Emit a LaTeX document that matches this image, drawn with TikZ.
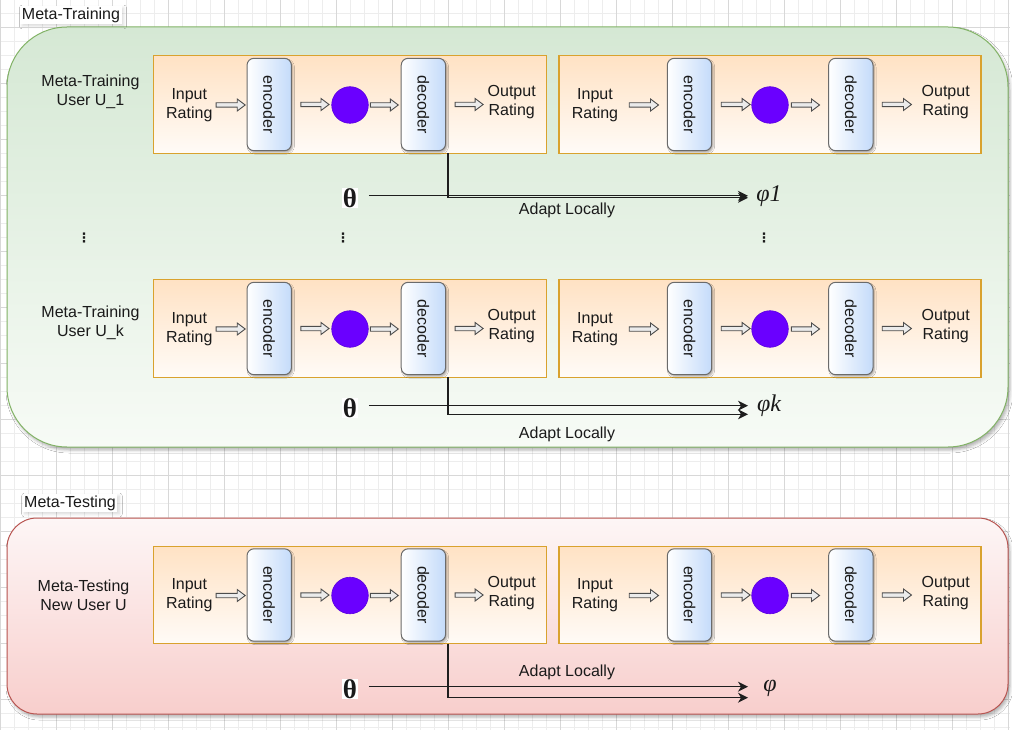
\documentclass[tikz,border=0pt]{standalone}
\usepackage{fontspec}
\setmainfont{Liberation Sans}
\newfontfamily\greekserif{Liberation Serif}
\newfontfamily\symbolfont{DejaVu Sans}
\usetikzlibrary{arrows.meta,calc,shadows.blur}

\definecolor{gridminor}{HTML}{EDEDED}
\definecolor{gridmajor}{HTML}{D8D8D8}
\definecolor{textcol}{HTML}{1A1A1A}
\definecolor{trainline}{HTML}{82B366}
\definecolor{traintop}{HTML}{D5E8D4}
\definecolor{trainbot}{HTML}{F7FBF6}
\definecolor{testline}{HTML}{B85450}
\definecolor{testtop}{HTML}{FDF6F6}
\definecolor{testbot}{HTML}{F8CECC}
\definecolor{stageline}{HTML}{D9A22E}
\definecolor{stagetop}{HTML}{FFE2C4}
\definecolor{stagebot}{HTML}{FFFBF7}
\definecolor{codecline}{HTML}{6B6B6B}
\definecolor{codecblue}{HTML}{C4DBFA}
\definecolor{latentfill}{HTML}{6A00FF}
\definecolor{latentline}{HTML}{5A00E0}
\definecolor{arrowgray}{HTML}{4D4D4D}
\definecolor{adaptcol}{HTML}{1E1E1E}

% one encoder/decoder pipeline with the narrower spacing
\newcommand\leftpipe[2]{% #1 name prefix, #2 vertical offset
  \node[stage, minimum width=393.4, minimum height=97.6] (#1box) at (350,104.5+#2) {};
  \node[txt] (#1in) at (189.3,105+#2) {Input\\Rating};
  \node[codec] (#1enc) at (269.2,104.5+#2) {\rotatebox{-90}{encoder}};
  \node[latent] (#1lat) at (350,105+#2) {};
  \node[codec] (#1dec) at (423.4,104.5+#2) {\rotatebox{-90}{decoder}};
  \node[txt] (#1out) at (511.7,102.2+#2) {Output\\Rating};
  \draw[flexarrow={3.5pt}{1.3pt}] (#1in.east) to (#1enc.west);
  \draw[flexarrow={9pt}{2.4pt}] (#1enc.east) to (#1lat.west);
  \draw[flexarrow={1.7pt}{2.4pt}] (#1lat.east) to (#1dec.west);
  \draw[flexarrow={9pt}{4.4pt}] (#1dec.east) to (#1out.west);
}
% the same pipeline with the wider spacing
\newcommand\rightpipe[2]{%
  \node[stage, minimum width=422, minimum height=97.6] (#1box) at (770,104.5+#2) {};
  \node[txt] (#1in) at (595,105+#2) {Input\\Rating};
  \node[codec] (#1enc) at (689.5,104.5+#2) {\rotatebox{-90}{encoder}};
  \node[latent] (#1lat) at (770,105+#2) {};
  \node[codec] (#1dec) at (850.8,104.5+#2) {\rotatebox{-90}{decoder}};
  \node[txt] (#1out) at (945.7,102.2+#2) {Output\\Rating};
  \draw[flexarrow={10.9pt}{8.3pt}] (#1in.east) to (#1enc.west);
  \draw[flexarrow={9pt}{1.3pt}] (#1enc.east) to (#1lat.west);
  \draw[flexarrow={2.7pt}{8.6pt}] (#1lat.east) to (#1dec.west);
  \draw[flexarrow={8.7pt}{10pt}] (#1dec.east) to (#1out.west);
}

\begin{document}
\begin{tikzpicture}[x=1pt,y=-1pt,
  txt/.style={font=\fontsize{16}{19}\selectfont, align=center, inner sep=0pt, text=textcol},
  grouplabel/.style={txt, fill=white, inner sep=1.5pt,
    blur shadow={shadow xshift=2pt, shadow yshift=-2pt, shadow opacity=15, shadow blur radius=3pt}},
  groupshadow/.style={blur shadow={shadow xshift=2pt, shadow yshift=-3pt, shadow opacity=30, shadow blur radius=3pt}},
  trainbox/.style={draw=trainline, line width=1pt, top color=traintop, bottom color=trainbot,
    rounded corners=60pt, groupshadow},
  testbox/.style={draw=testline, line width=1pt, top color=testtop, bottom color=testbot,
    rounded corners=30pt, groupshadow},
  stage/.style={draw=stageline, line width=1.2pt, top color=stagetop, bottom color=stagebot, inner sep=0pt},
  codec/.style={draw=codecline, line width=1pt, rounded corners=7pt, left color=white, right color=codecblue,
    minimum width=44.4, minimum height=92.4, inner sep=0pt, font=\fontsize{16}{19}\selectfont, text=textcol,
    blur shadow={shadow xshift=1.5pt, shadow yshift=-2pt, shadow opacity=30, shadow blur radius=1.5pt}},
  latent/.style={circle, fill=latentfill, draw=latentline, line width=0.6pt, minimum size=36.6, inner sep=0pt},
  flexarrow/.style 2 args={draw=arrowgray, fill=white!92!black, line width=0.9pt, line join=miter,
    to path={let \p1=(\tikztostart), \p2=(\tikztotarget) in
      (\x1+#1,\y1+2.2pt) -- (\x2-#2-8pt,\y1+2.2pt) -- (\x2-#2-8pt,\y1+6pt) -- (\x2-#2,\y1)
      -- (\x2-#2-8pt,\y1-6pt) -- (\x2-#2-8pt,\y1-2.2pt) -- (\x1+#1,\y1-2.2pt) -- cycle}},
  adapt/.style={draw=adaptcol, line width=1.1pt, -{Stealth[length=10pt,width=10pt,inset=3pt]}},
  thetalbl/.style={font=\fontsize{27}{29}\greekserif\bfseries, fill=white, inner sep=0.5pt, text=textcol},
  philbl/.style={font=\fontsize{24}{26}\greekserif\itshape, inner sep=0pt, text=textcol},
  dots/.style={font=\fontsize{13}{15}\symbolfont\bfseries, inner sep=0pt, text=textcol}
]
\useasboundingbox (0,0) rectangle (1012,730);
\fill[white] (0,0) rectangle (1012,730);

% background grid
\foreach \gx in {0,14,...,1008} \draw[gridminor, line width=0.6pt] (\gx,0) -- (\gx,730);
\foreach \gy in {13,27,...,727} \draw[gridminor, line width=0.6pt] (0,\gy) -- (1010,\gy);
\foreach \gx in {0,56,...,1008} \draw[gridmajor, line width=0.9pt] (\gx,0) -- (\gx,730);
\foreach \gy in {27,83,...,699} \draw[gridmajor, line width=0.9pt] (0,\gy) -- (1010,\gy);

% group frames
\node[trainbox, minimum width=1001, minimum height=420] (train) at (507.5,237) {};
\node[testbox, minimum width=1001, minimum height=196] (test) at (507.5,616) {};
\node[grouplabel] (trainlbl) at (71,15) {Meta-Training};
\node[grouplabel] (testlbl) at (70,503) {Meta-Testing};

% row labels
\node[txt] (user1) at (90.5,92) {Meta-Training\\User U\_1};
\node[txt] (userk) at (90.5,322.5) {Meta-Training\\User U\_k};
\node[txt] (usernew) at (83.5,595.5) {Meta-Testing\\New User U};

% pipelines
\leftpipe{a}{0}
\rightpipe{b}{0}
\leftpipe{c}{224}
\rightpipe{d}{224}
\leftpipe{e}{490.5}
\rightpipe{f}{490.5}

% first training user
\node[thetalbl] (th1) at (350,198) {θ};
\node[philbl] (phi1) at (769,196) {φ1};
\coordinate (tip1a) at (748,195.8);
\coordinate (tip1b) at (748,197.8);
\coordinate (src1) at (448,153.3);
\draw[adapt, shorten <=11pt] (th1.east |- tip1a) -- (tip1a);
\draw[adapt] (src1) |- (tip1b);
\node[txt] (ad1) at (567,210.5) {Adapt Locally};

% ellipsis between users
\node[dots] (vd1) at (84,238) {⋮};
\node[dots] (vd2) at (343,238) {⋮};
\node[dots] (vd3) at (764,238) {⋮};

% k-th training user
\node[thetalbl] (th2) at (350,408) {θ};
\node[philbl] (phi2) at (769,406) {φk};
\coordinate (tip2a) at (748,405.7);
\coordinate (tip2b) at (748,414.3);
\coordinate (src2) at (448,377.3);
\draw[adapt, shorten <=11pt] (th2.east |- tip2a) -- (tip2a);
\draw[adapt] (src2) |- (tip2b);
\node[txt] (ad2) at (567,434) {Adapt Locally};

% new test user
\node[thetalbl] (th3) at (350,689) {θ};
\node[philbl] (phi3) at (770,688) {φ};
\coordinate (tip3a) at (748,686.7);
\coordinate (tip3b) at (748,697.7);
\coordinate (src3) at (448,643.8);
\draw[adapt, shorten <=11pt] (th3.east |- tip3a) -- (tip3a);
\draw[adapt] (src3) |- (tip3b);
\node[txt] (ad3) at (567,672.5) {Adapt Locally};
\end{tikzpicture}
\end{document}
